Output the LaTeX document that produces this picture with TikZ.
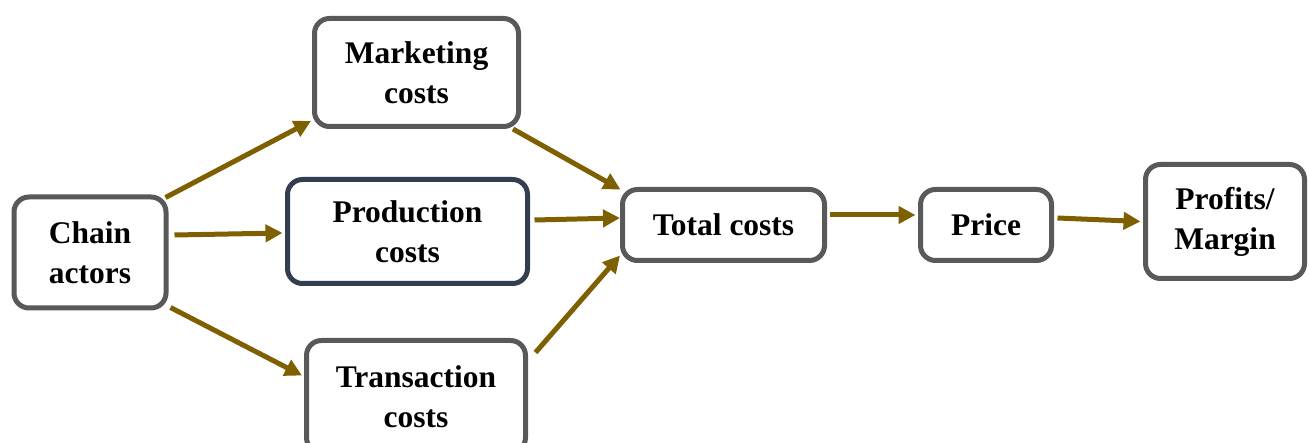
\documentclass[tikz,border=0pt]{standalone}
\usepackage{fontspec}
\setmainfont{Liberation Serif}
\usetikzlibrary{arrows.meta,calc}
\definecolor{boxgray}{HTML}{595959}
\definecolor{boxnavy}{HTML}{333F50}
\definecolor{arrowgold}{HTML}{7F6000}
\tikzset{
  box/.style={draw=boxgray, line width=5pt, rounded corners=15pt, fill=white,
    align=center, inner sep=0pt, font=\fontsize{31.5}{40}\selectfont\bfseries},
  flow/.style={draw=arrowgold, line width=5pt,
    -{Triangle[length=17pt,width=17pt]}}
}
\begin{document}
\begin{tikzpicture}[x=1pt,y=-1pt]
\clip (0,0) rectangle (1309,443);
\fill[white] (0,0) rectangle (1309,443);
\node[box, minimum width=152pt, minimum height=111pt] (chain) at (90,252.5) {Chain\\actors};
\node[box, minimum width=204pt, minimum height=108pt] (mkt) at (416.5,72.5) {Marketing\\costs};
\node[box, draw=boxnavy, minimum width=240pt, minimum height=104pt] (prod) at (407.5,231.5) {Production\\costs};
\node[box, minimum width=219pt, minimum height=112pt] (trans) at (416,396.5) {Transaction\\costs};
\node[box, minimum width=202pt, minimum height=71pt] (total) at (723.5,225) {Total costs};
\node[box, minimum width=131pt, minimum height=71pt] (price) at (986,225) {Price};
\node[box, minimum width=159pt, minimum height=114pt] (profit) at (1225,221.5) {Profits/\\Margin};

\draw[flow] ($(chain.north east)+(-3,3)$) -- ($(mkt.south west)+(-1,-8)$);
\draw[flow] ($(chain.east)+(6,-17.5)$) -- ($(prod.west)+(-2.5,1.5)$);
\draw[flow] ($(chain.south east)+(2,-3)$) -- ($(trans.west)+(-2,-21)$);
\draw[flow] ($(mkt.south east)+(-8,0)$) -- ($(total.north west)+(0.5,2.5)$);
\draw[flow] ($(prod.east)+(4.5,-11.5)$) -- ($(total.west)+(0,-7)$);
\draw[flow] ($(trans.north east)+(7.5,14.5)$) -- ($(total.south west)+(0,-7.5)$);
\draw[flow] ($(total.east)+(2.5,-10)$) -- ($(price.west)+(-2.5,-10)$);
\draw[flow] ($(price.east)+(3.5,-7)$) -- ($(profit.west)+(-2.5,0)$);
\end{tikzpicture}
\end{document}
